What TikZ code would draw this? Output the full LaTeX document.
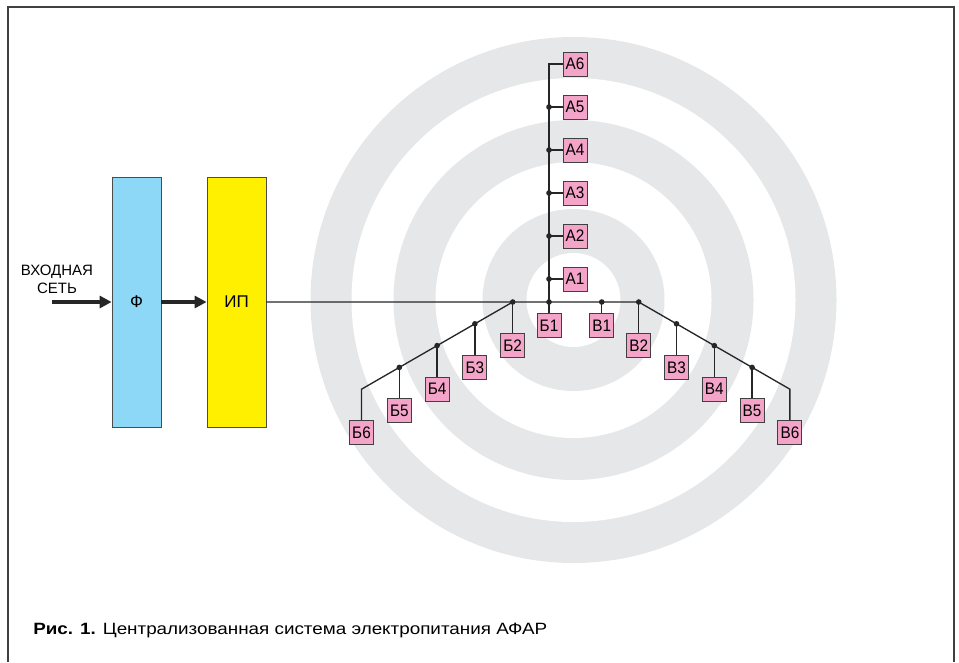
\documentclass[tikz,border=0pt]{standalone}
\usepackage{fontspec}
\setmainfont{Liberation Sans}
\usepackage{graphicx}
\usepackage{xcolor}
\usetikzlibrary{arrows.meta}
\definecolor{ringgray}{HTML}{E6E7E8}
\definecolor{filterblue}{HTML}{8DD8F7}
\definecolor{sourceyellow}{HTML}{FFF000}
\definecolor{unitpink}{HTML}{F4A4C8}
\definecolor{wiregray}{HTML}{262626}
\newcommand{\narrowlabel}[1]{\scalebox{0.92}[1]{#1}}

\begin{document}
\begin{tikzpicture}[x=0.75pt, y=-0.75pt,
	wire/.style={draw=wiregray, line width=1pt},
	feed/.style={draw=black!85, line width=2.3pt, -{Triangle[length=9pt,width=9pt]}},
	block/.style={draw=black!70, line width=0.6pt, minimum height=187.5pt, inner sep=0pt, font=\fontsize{12.75}{14}\selectfont},
	unit/.style={draw=black!75, line width=0.7pt, fill=unitpink, minimum size=18pt, inner sep=0pt, font=\fontsize{12.5}{14}\selectfont},
	junction/.style={fill=wiregray}]
	\useasboundingbox (0,0) rectangle (959,662);
	\fill[ringgray] (573.5,300) circle[radius=263];
	\fill[white] (573.5,300) circle[radius=222];
	\fill[ringgray] (573.5,300) circle[radius=180];
	\fill[white] (573.5,300) circle[radius=138];
	\fill[ringgray] (573.5,300) circle[radius=91];
	\fill[white] (573.5,300) circle[radius=47];
	\draw[line width=1.1pt, black!75] (8,662) -- (8,7) -- (954,7) -- (954,662);

	\node[block, fill=filterblue, minimum width=36.75pt] (f) at (136.5,302) {Ф};
	\node[block, fill=sourceyellow, minimum width=44.25pt] (ip) at (236.5,302) {ИП};
	\coordinate (in) at (52,302);
	\node[align=center, inner sep=0pt, font=\fontsize{11.25}{13.5}\selectfont] (inlabel) at (57,279) {ВХОДНАЯ\\СЕТЬ};
	\draw[feed] (in) -- (f);
	\draw[feed] (f) -- (ip);

	\coordinate (ja) at (549,302);
	\coordinate (jb2) at (512.7,302);
	\coordinate (jb3) at (474.9,323.8);
	\coordinate (jb4) at (437.1,345.6);
	\coordinate (jb5) at (399.3,367.4);
	\coordinate (jb6) at (361.5,389.2);
	\coordinate (jv1) at (601.7,302);
	\coordinate (jv2) at (638.7,302);
	\coordinate (jv3) at (676.5,323.8);
	\coordinate (jv4) at (714.3,345.6);
	\coordinate (jv5) at (752.1,367.4);
	\coordinate (jv6) at (789.9,389.2);
	\coordinate (ja1) at (549,279);
	\coordinate (ja2) at (549,236);
	\coordinate (ja3) at (549,193);
	\coordinate (ja4) at (549,150);
	\coordinate (ja5) at (549,107);
	\coordinate (ja6) at (549,64);

	\node[unit] (a1) at (575,279) {\narrowlabel{А1}};
	\node[unit] (a2) at (575,236) {\narrowlabel{А2}};
	\node[unit] (a3) at (575,193) {\narrowlabel{А3}};
	\node[unit] (a4) at (575,150) {\narrowlabel{А4}};
	\node[unit] (a5) at (575,107) {\narrowlabel{А5}};
	\node[unit] (a6) at (575,64) {\narrowlabel{А6}};
	\node[unit] (b1) at (549,325.5) {\narrowlabel{Б1}};
	\node[unit] (b2) at (512.7,345.5) {\narrowlabel{Б2}};
	\node[unit] (b3) at (474.9,367.3) {\narrowlabel{Б3}};
	\node[unit] (b4) at (437.1,389.1) {\narrowlabel{Б4}};
	\node[unit] (b5) at (399.3,410.9) {\narrowlabel{Б5}};
	\node[unit] (b6) at (361.5,432.7) {\narrowlabel{Б6}};
	\node[unit] (v1) at (601.7,325.5) {\narrowlabel{В1}};
	\node[unit] (v2) at (638.7,345.5) {\narrowlabel{В2}};
	\node[unit] (v3) at (676.5,367.3) {\narrowlabel{В3}};
	\node[unit] (v4) at (714.3,389.1) {\narrowlabel{В4}};
	\node[unit] (v5) at (752.1,410.9) {\narrowlabel{В5}};
	\node[unit] (v6) at (789.9,432.7) {\narrowlabel{В6}};

	\draw[wire] (ip) -- (jv2) -- (jv6) -- (v6);
	\draw[wire] (jb2) -- (jb6) -- (b6);
	\draw[wire] (ja) -- (ja6) -- (a6);
	\draw[wire] (ja) -- (b1);
	\draw[wire] (jv1) -- (v1);
	\draw[wire] (jb2) -- (b2);
	\draw[wire] (jb3) -- (b3);
	\draw[wire] (jb4) -- (b4);
	\draw[wire] (jb5) -- (b5);
	\draw[wire] (jv2) -- (v2);
	\draw[wire] (jv3) -- (v3);
	\draw[wire] (jv4) -- (v4);
	\draw[wire] (jv5) -- (v5);
	\draw[wire] (ja1) -- (a1);
	\draw[wire] (ja2) -- (a2);
	\draw[wire] (ja3) -- (a3);
	\draw[wire] (ja4) -- (a4);
	\draw[wire] (ja5) -- (a5);
	\fill[junction] (ja) circle[radius=2.8] (jb2) circle[radius=2.8] (jb3) circle[radius=2.8] (jb4) circle[radius=2.8] (jb5) circle[radius=2.8];
	\fill[junction] (jv1) circle[radius=2.8] (jv2) circle[radius=2.8] (jv3) circle[radius=2.8] (jv4) circle[radius=2.8] (jv5) circle[radius=2.8];
	\fill[junction] (ja1) circle[radius=2.8] (ja2) circle[radius=2.8] (ja3) circle[radius=2.8] (ja4) circle[radius=2.8] (ja5) circle[radius=2.8];

	\node[anchor=west, inner sep=0pt, font=\fontsize{12.25}{14}\selectfont] (caption) at (33,631) {\resizebox{385.5pt}{\height}{\textbf{Рис. 1.} Централизованная система электропитания АФАР}};
\end{tikzpicture}
\end{document}
